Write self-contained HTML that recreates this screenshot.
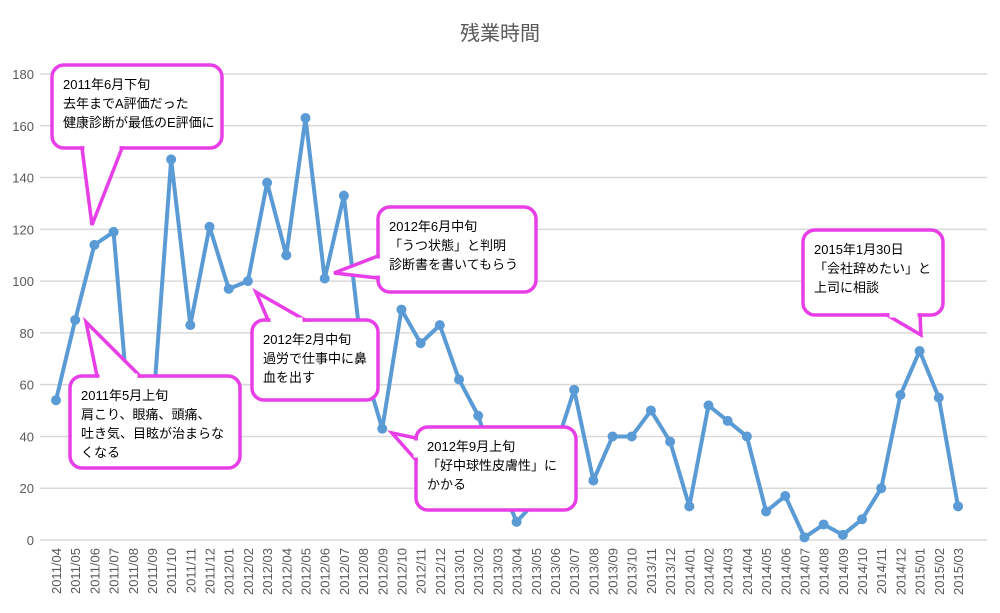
<!DOCTYPE html>
<html><head><meta charset="utf-8"><style>
body{margin:0;background:#fff;}
svg{display:block;font-family:"Liberation Sans","Noto Sans CJK JP",sans-serif;}
</style></head><body>
<svg id="c" width="1000" height="613">
<text x="500" y="40" text-anchor="middle" font-size="20" fill="#595959">残業時間</text>
<g id="grid"></g><g id="xl"></g><g id="series"></g><g id="callouts"></g>
</svg>
<script>
const categories=["2011/04","2011/05","2011/06","2011/07","2011/08","2011/09","2011/10","2011/11","2011/12","2012/01","2012/02","2012/03","2012/04","2012/05","2012/06","2012/07","2012/08","2012/09","2012/10","2012/11","2012/12","2013/01","2013/02","2013/03","2013/04","2013/05","2013/06","2013/07","2013/08","2013/09","2013/10","2013/11","2013/12","2014/01","2014/02","2014/03","2014/04","2014/05","2014/06","2014/07","2014/08","2014/09","2014/10","2014/11","2014/12","2015/01","2015/02","2015/03"];
const hours=[54,85,114,119,32,45,147,83,121,97,100,138,110,163,101,133,68,43,89,76,83,62,48,25,7,15,35,58,23,40,40,50,38,13,52,46,40,11,17,1,6,2,8,20,56,73,55,13];
const yTicks=[0,20,40,60,80,100,120,140,160,180];
const NS="http://www.w3.org/2000/svg";
const X0=56,X1=958,Y0=540,Y1=74,YMAX=180;
const xs=i=>X0+(X1-X0)*i/(categories.length-1);
const ys=v=>Y0-(Y0-Y1)*v/YMAX;
function mk(t,a,p){const e=document.createElementNS(NS,t);for(const k in a)e.setAttribute(k,a[k]);p.appendChild(e);return e;}
const grid=document.getElementById('grid');
yTicks.forEach(v=>{
 const l=mk('line',{x1:40,x2:987,y1:ys(v),y2:ys(v),stroke:'#d9d9d9','stroke-width':1.5},grid);
 
 
 const t=mk('text',{x:34,y:ys(v)+5,'text-anchor':'end','font-size':13,fill:'#595959'},grid);
 t.textContent=v;
 
 
});
const xl=document.getElementById('xl');
categories.forEach((c,i)=>{
 const t=mk('text',{transform:`translate(${xs(i)+5},548) rotate(-90)`,'text-anchor':'end','font-size':13,fill:'#595959'},xl);
 t.textContent=c;
 
 
});
const s=document.getElementById('series');
const pl=mk('polyline',{points:hours.map((v,i)=>xs(i)+','+ys(v)).join(' '),fill:'none',stroke:'#5b9bd5','stroke-width':4,'stroke-linejoin':'round'},s);


hours.forEach((v,i)=>{
 const c=mk('circle',{cx:xs(i),cy:ys(v),r:5,fill:'#5b9bd5'},s);
 
 
});
const co=document.getElementById('callouts');
const callouts=[
 {x:52,y:65,w:170,h:83,tip:[92,225],b:[[82,148],[122,148]],lines:["2011年6月下旬","去年までA評価だった","健康診断が最低のE評価に"],name:'callout-2011-06'},
 {x:70,y:376,w:170,h:92,tip:[86,322],b:[[97,376],[140,376]],lines:["2011年5月上旬","肩こり、眼痛、頭痛、","吐き気、目眩が治まらな","くなる"],name:'callout-2011-05'},
 {x:252,y:320,w:126,h:80,tip:[256,292],b:[[268,320],[305,320]],lines:["2012年2月中旬","過労で仕事中に鼻","血を出す"],name:'callout-2012-02'},
 {x:378,y:207,w:158,h:85,tip:[334,273],b:[[378,256],[378,278]],lines:["2012年6月中旬","「うつ状態」と判明","診断書を書いてもらう"],name:'callout-2012-06'},
 {x:416,y:427,w:160,h:83,tip:[392,433],b:[[416,438],[416,460]],lines:["2012年9月上旬","「好中球性皮膚性」に","かかる"],name:'callout-2012-09'},
 {x:803,y:230,w:140,h:85,tip:[921,335],b:[[887,315],[920,315]],lines:["2015年1月30日","「会社辞めたい」と","上司に相談"],name:'callout-2015-01'}
];
callouts.forEach(k=>{
 const g=mk('g',{},co);
 
 
 mk('rect',{x:k.x,y:k.y,width:k.w,height:k.h,rx:12,fill:'#fff',stroke:'#e83ee8','stroke-width':3.5},g);
 mk('polygon',{points:[k.tip,k.b[0],k.b[1]].map(p=>p.join(',')).join(' '),fill:'#fff',stroke:'#e83ee8','stroke-width':3.5,'stroke-linejoin':'miter'},g);
 const horiz=k.b[0][1]===k.b[1][1];
 const a=horiz?[k.b[0][0]+2.5,k.b[0][1]]:[k.b[0][0],k.b[0][1]+2.5];
 const b=horiz?[k.b[1][0]-2.5,k.b[1][1]]:[k.b[1][0],k.b[1][1]-2.5];
 mk('line',{x1:a[0],y1:a[1],x2:b[0],y2:b[1],stroke:'#fff','stroke-width':5},g);
 k.lines.forEach((ln,j)=>{
  const t=mk('text',{x:k.x+11,y:k.y+24+j*19,'font-size':13,fill:'#000'},g);
  t.textContent=ln;
 });
});
</script>
</body></html>
